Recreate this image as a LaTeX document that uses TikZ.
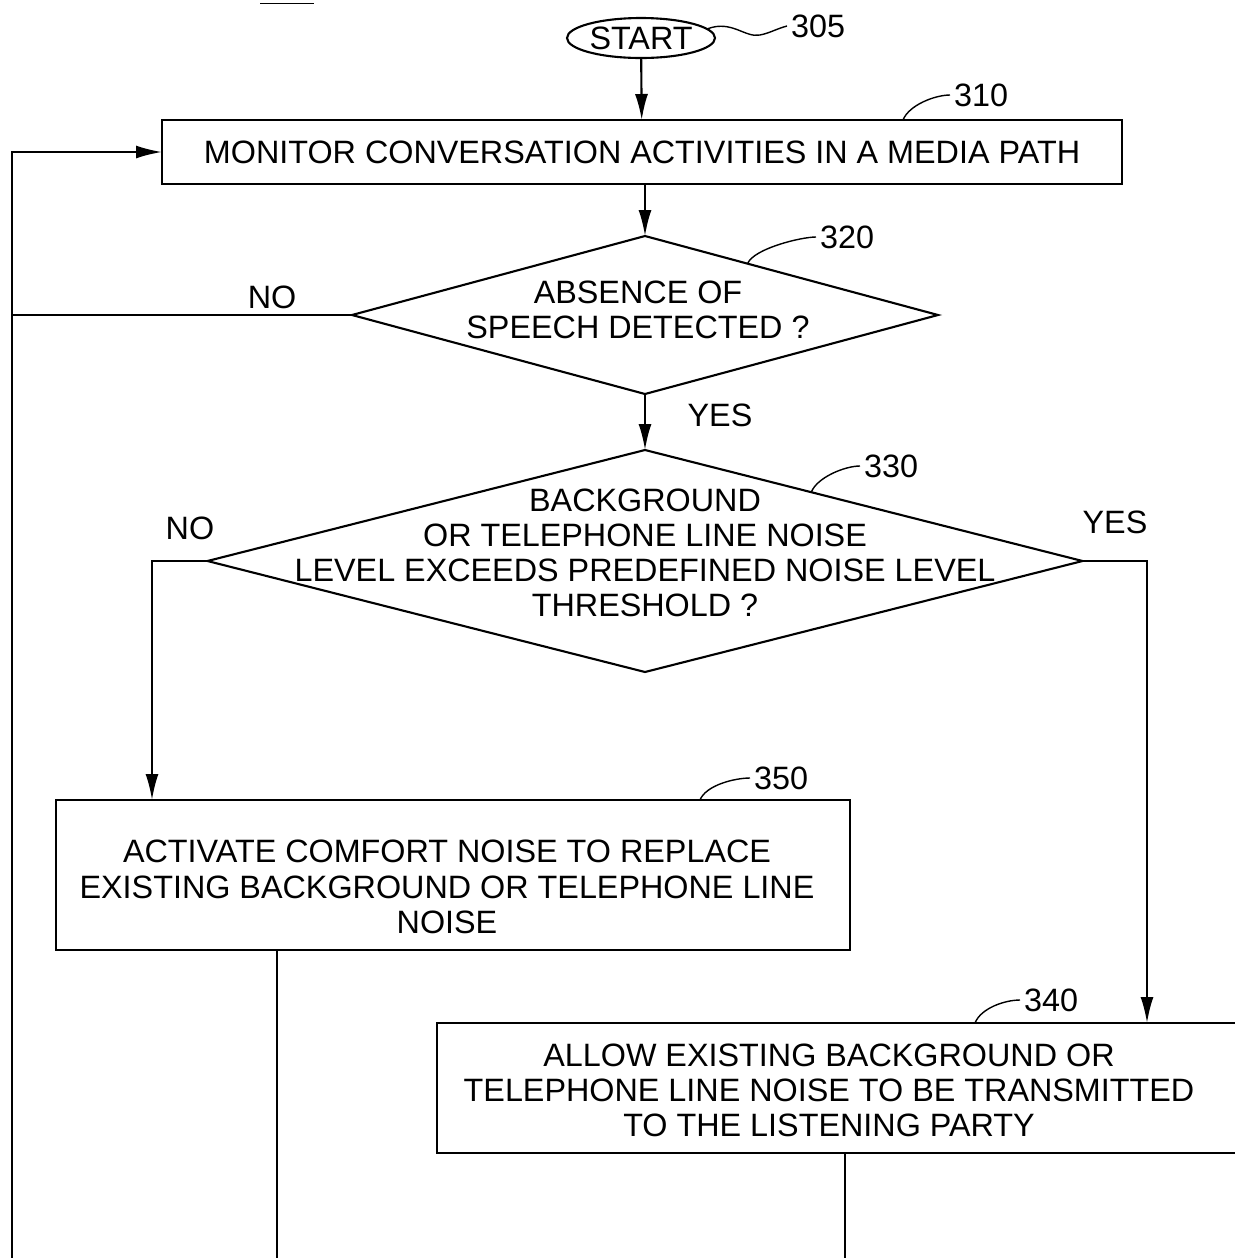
\documentclass[tikz,border=0pt]{standalone}
\usepackage{fontspec}
\setmainfont{Liberation Sans}
\usetikzlibrary{arrows.meta,calc,positioning,shapes.geometric}

\tikzset{
  every node/.style={font=\fontsize{9.2}{10}\selectfont},
  stepbox/.style={draw,semithick,rectangle,inner sep=0pt,outer sep=0pt},
  decision/.style={draw,semithick,diamond,inner sep=0pt,outer sep=0pt},
  flow/.style={semithick,-{Latex[length=2.6mm,width=1.3mm]}},
  wire/.style={semithick},
  leader/.style={thin},
  refnum/.style={inner sep=1pt,anchor=west},
}

\begin{document}
\begin{tikzpicture}
  \useasboundingbox (0,0) rectangle (12.34,-12.58);
  % figure number, cut off by the top edge
  \node[anchor=base,inner sep=0pt] (fignum) at (2.87,0.02) {\underline{300}};

  % blocks
  \node[ellipse,draw,semithick,minimum width=1.48cm,minimum height=0.40cm,inner sep=0pt] (start) at (6.41,-0.38) {START};
  \node[stepbox,minimum width=9.60cm,minimum height=0.64cm] (monitor) at (6.42,-1.52) {MONITOR CONVERSATION ACTIVITIES IN A MEDIA PATH};
  \node[decision,minimum width=5.86cm,minimum height=1.58cm] (speech) at (6.45,-3.15) {};
  \node[align=center] (speechtxt) at (6.38,-3.10) {ABSENCE OF\\SPEECH DETECTED ?};
  \node[decision,minimum width=8.75cm,minimum height=2.22cm] (noise) at (6.45,-5.61) {};
  \node[align=center] (noisetxt) at (6.45,-5.53) {BACKGROUND\\OR TELEPHONE LINE NOISE\\LEVEL EXCEEDS PREDEFINED NOISE LEVEL\\THRESHOLD ?};
  \node[stepbox,minimum width=7.94cm,minimum height=1.50cm] (comfort) at (4.53,-8.75) {};
  \node[align=center] (comforttxt) at (4.47,-8.87) {ACTIVATE COMFORT NOISE TO REPLACE\\EXISTING BACKGROUND OR TELEPHONE LINE\\NOISE};
  \node[stepbox,minimum width=8.10cm,minimum height=1.30cm] (allow) at (8.42,-10.88) {};
  \node[align=center] (allowtxt) at (8.29,-10.90) {ALLOW EXISTING BACKGROUND OR\\TELEPHONE LINE NOISE TO BE TRANSMITTED\\TO THE LISTENING PARTY};

  % reference numerals
  \node[refnum] (n305) at (7.87,-0.26) {305};
  \node[refnum] (n310) at (9.50,-0.95) {310};
  \node[refnum] (n320) at (8.16,-2.37) {320};
  \node[refnum] (n330) at (8.60,-4.66) {330};
  \node[refnum] (n350) at (7.50,-7.78) {350};
  \node[refnum] (n340) at (10.20,-10.00) {340};

  \draw[leader] (start.8) .. controls (7.32,-0.20) and (7.45,-0.38) .. (7.60,-0.35)
    .. controls (7.70,-0.33) and (7.76,-0.29) .. (n305.west);
  \draw[leader] ([xshift=2.61cm]monitor.north) .. controls +(0.06,0.15) and +(-0.15,0) .. (n310.west);
  \draw[leader] ($(speech.north)!0.35!(speech.east)$) .. controls +(0.06,0.15) and +(-0.15,0) .. (n320.west);
  \draw[leader] ($(noise.north)!0.38!(noise.east)$) .. controls +(0.06,0.15) and +(-0.15,0) .. (n330.west);
  \draw[leader] ([xshift=2.47cm]comfort.north) .. controls +(0.06,0.15) and +(-0.15,0) .. (n350.west);
  \draw[leader] ([xshift=1.33cm]allow.north) .. controls +(0.06,0.15) and +(-0.15,0) .. (n340.west);

  % branch words
  \node (no1) at (2.72,-2.97) {NO};
  \node (yes1) at (7.20,-4.15) {YES};
  \node (no2) at (1.90,-5.28) {NO};
  \node (yes2) at (11.15,-5.22) {YES};

  % connectors
  \coordinate (ret) at (0.12,-12.70);
  \coordinate (out350) at (2.77,-12.70);
  \coordinate (out340) at (8.45,-12.70);
  \draw[flow] (start) -- (monitor);
  \draw[flow] (monitor.south -| speech.north) -- (speech.north);
  \draw[flow] (speech) -- (noise);
  \draw[wire] (speech.west) -| (ret);
  \draw[flow] (ret) |- (monitor.west);
  \draw[flow] (noise.west) -| ([xshift=-3.01cm]comfort.north);
  \draw[flow] (noise.east) -| ([xshift=3.05cm]allow.north);
  \draw[wire] (comfort.south -| out350) -- (out350);
  \draw[wire] (allow.south -| out340) -- (out340);
\end{tikzpicture}
\end{document}
